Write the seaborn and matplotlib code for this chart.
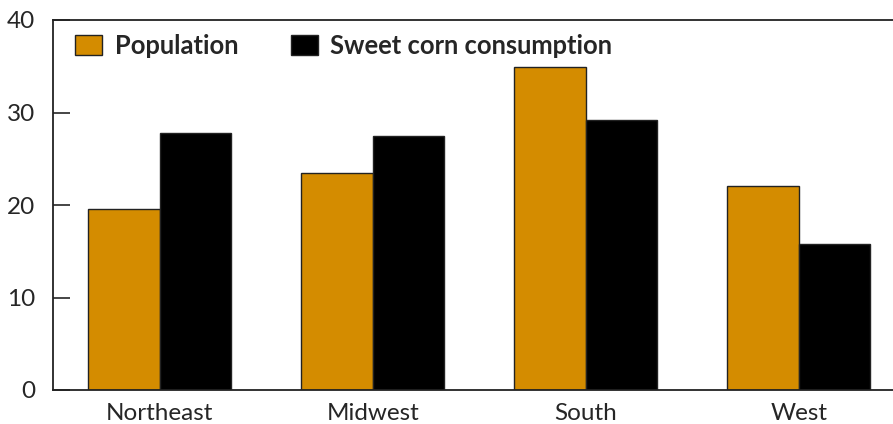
import matplotlib
matplotlib.use("Agg")
import matplotlib.pyplot as plt
import seaborn as sns
import pandas as pd
from matplotlib.patches import Patch

regions = ["Northeast", "Midwest", "South", "West"]
population = [19.6, 23.5, 34.9, 22.1]
consumption = [27.8, 27.5, 29.2, 15.8]
series = ["Population", "Sweet corn consumption"]
colors = ["#D48C00", "#000000"]

df = pd.DataFrame({
    "region": regions * 2,
    "value": population + consumption,
    "series": [series[0]] * 4 + [series[1]] * 4,
})

sns.set_style("white")
plt.rcParams["font.family"] = ["Lato", "DejaVu Sans"]

fig = plt.figure(figsize=(8.93, 4.24), dpi=100)
ax = fig.add_axes([53/893, 34/424, 1 - 53/893 + 0.002, 370/424])
sns.barplot(data=df, x="region", y="value", hue="series", palette=colors,
            saturation=1, width=0.67, edgecolor="#222222", linewidth=1.0,
            ax=ax, legend=False)

ax.set_ylim(0, 40)
ax.set_xlim(-0.5, 3.45)
ax.set_yticks([0, 10, 20, 30, 40])
ax.set_xlabel("")
ax.set_ylabel("")
ax.tick_params(axis="y", direction="in", length=12, width=1.2, labelsize=17.5, pad=13, left=True)
ax.tick_params(axis="x", length=0, labelsize=17.5, pad=9)
for s in ["left", "bottom", "top"]:
    ax.spines[s].set_visible(True)
    ax.spines[s].set_color("#222222")
    ax.spines[s].set_linewidth(1.3)
ax.spines["right"].set_visible(False)

handles = [Patch(facecolor=c, edgecolor="#222222", linewidth=1.0) for c in colors]
ax.legend(handles, series, loc="upper left", ncol=2, frameon=False,
          prop={"weight": "bold", "size": 18.4}, handlelength=1.06, handleheight=0.86,
          handletextpad=0.5, columnspacing=2.04,
          bbox_to_anchor=(22/840, 1 - 14/370), borderaxespad=0, borderpad=0)

fig.savefig("out.png", dpi=100)
